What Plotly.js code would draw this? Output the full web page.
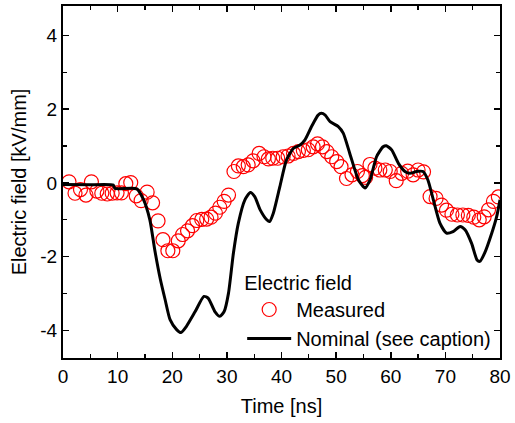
<!DOCTYPE html>
<html>
<head>
<meta charset="utf-8">
<script src="https://cdn.plot.ly/plotly-3.0.1.min.js"></script>
<style>html,body{margin:0;padding:0;background:#fff;}#chart{width:515px;height:423px;}</style>
</head>
<body>
<div id="chart"></div>
<script>
// Measured electric field (open red circles)
const measTime = [1.1,2.2,3.2,4.2,5.2,6.2,7.1,8.1,9.0,9.9,10.7,11.5,12.4,13.4,14.3,15.4,16.4,17.4,18.3,19.2,20.1,21.1,21.9,22.8,23.7,24.5,25.4,26.3,27.1,27.9,28.7,29.5,30.3,31.3,32.1,33.0,33.9,34.8,35.9,36.8,37.6,38.4,39.3,40.3,41.2,42.2,43.1,44.0,44.9,45.8,46.6,47.5,48.3,49.2,50.1,50.9,51.9,52.9,53.9,54.8,55.4,56.2,57.1,58.0,59.0,59.9,61.0,62.0,63.1,64.1,65.0,66.0,67.2,68.3,69.3,70.2,71.2,72.2,73.2,74.2,75.2,76.2,77.1,77.9,78.8,79.7];
const measField = [0.03,-0.28,-0.18,-0.33,0.03,-0.22,-0.28,-0.3,-0.28,-0.27,-0.27,-0.02,0.01,-0.35,-0.48,-0.25,-0.54,-1.03,-1.54,-1.84,-1.84,-1.57,-1.4,-1.3,-1.16,-1.02,-0.99,-0.98,-0.93,-0.82,-0.66,-0.5,-0.33,0.31,0.46,0.44,0.49,0.6,0.8,0.71,0.65,0.67,0.67,0.71,0.73,0.8,0.85,0.88,0.9,0.98,1.06,0.98,0.85,0.71,0.58,0.44,0.12,0.22,0.31,0.2,0.15,0.5,0.4,0.35,0.35,0.31,0.06,0.26,0.32,0.22,0.35,0.3,-0.37,-0.42,-0.6,-0.74,-0.85,-0.87,-0.87,-0.88,-0.93,-1.0,-0.92,-0.73,-0.5,-0.38];

// Nominal electric field (black line)
const nomTime = [0,5,9.2,9.5,13.5,14.7,15.9,16.8,17.8,18.7,19.6,20.8,21.6,22.6,24.2,25.8,26.6,27.8,28.7,29.5,30.3,31.2,32.1,33.3,34.3,35.1,36.1,37.3,37.8,38.5,39.7,40.9,42.2,43.4,44.3,45.5,46.7,47.3,48.0,48.9,50.4,51.3,52.5,54.1,55.3,56.2,57.4,58.6,59.2,60.2,61.4,62.6,63.5,64.7,65.9,66.8,67.8,69.0,70.2,71.4,72.7,73.6,74.8,75.8,76.3,77.2,78.5,79.4,80];
const nomField = [-0.04,-0.05,-0.06,-0.15,-0.16,-0.44,-1.0,-1.82,-2.6,-3.17,-3.71,-3.98,-4.06,-3.89,-3.49,-3.08,-3.13,-3.49,-3.62,-3.49,-2.99,-1.9,-1.09,-0.46,-0.26,-0.37,-0.73,-1.0,-1.05,-0.82,-0.1,0.62,0.94,1.03,1.17,1.53,1.84,1.89,1.84,1.66,1.53,1.35,0.8,0.08,-0.14,0.08,0.71,0.98,1.01,0.89,0.53,0.31,0.26,0.31,0.31,0.08,-0.46,-1.09,-1.36,-1.32,-1.18,-1.27,-1.64,-2.09,-2.13,-1.9,-1.36,-0.91,-0.46];

// Tick labels
const xTickVals = [0,10,20,30,40,50,60,70,80];
const xTickText = ['0','10','20','30','40','50','60','70','80'];
const yTickVals = [-4,-2,0,2,4];
const yTickText = ['-4','-2','0','2','4'];

const FONT = 'Liberation Sans, Arial, sans-serif';

const traces = [
  {
    x: measTime, y: measField, type: 'scatter', mode: 'markers', name: 'Measured',
    marker: {symbol: 'circle-open', size: 14, color: '#ff0000', line: {width: 1.2, color: '#ff0000'}}
  },
  {
    x: nomTime, y: nomField, type: 'scatter', mode: 'lines', name: 'Nominal (see caption)',
    line: {color: '#000000', width: 3, shape: 'spline', smoothing: 0.6}
  }
];

const axisCommon = {
  showline: true, linecolor: '#000', linewidth: 2, mirror: 'allticks',
  ticks: 'inside', ticklen: 6, tickwidth: 1.5, tickcolor: '#000',
  showgrid: false, zeroline: false,
  tickfont: {family: FONT, size: 19, color: '#000'}
};

const layout = {
  width: 515, height: 423,
  margin: {l: 63, r: 15, t: 6, b: 65},
  paper_bgcolor: '#fff', plot_bgcolor: '#fff',
  font: {family: FONT, size: 19, color: '#000'},
  xaxis: Object.assign({}, axisCommon, {
    range: [0, 80], tickmode: 'array', tickvals: xTickVals, ticktext: xTickText,
    minor: {dtick: 5, tick0: 0, ticks: 'inside', ticklen: 4, tickcolor: '#000', tickwidth: 1.2},
    title: {text: 'Time [ns]', font: {family: FONT, size: 20}, standoff: 13}
  }),
  yaxis: Object.assign({}, axisCommon, {
    range: [-4.75, 4.8], tickmode: 'array', tickvals: yTickVals, ticktext: yTickText,
    minor: {dtick: 1, tick0: 0, ticks: 'inside', ticklen: 4, tickcolor: '#000', tickwidth: 1.2},
    title: {text: 'Electric field [kV/mm]', font: {family: FONT, size: 20}, standoff: 8}
  }),
  showlegend: true,
  legend: {
    x: 0.41, y: 0.0, xanchor: 'left', yanchor: 'bottom',
    bgcolor: 'rgba(0,0,0,0)', borderwidth: 0,
    font: {family: FONT, size: 20, color: '#000'},
    title: {text: 'Electric field', font: {family: FONT, size: 20}},
    itemwidth: 44, tracegroupgap: 0
  }
};

Plotly.newPlot('chart', traces, layout, {displayModeBar: false, staticPlot: true});
</script>
</body>
</html>
